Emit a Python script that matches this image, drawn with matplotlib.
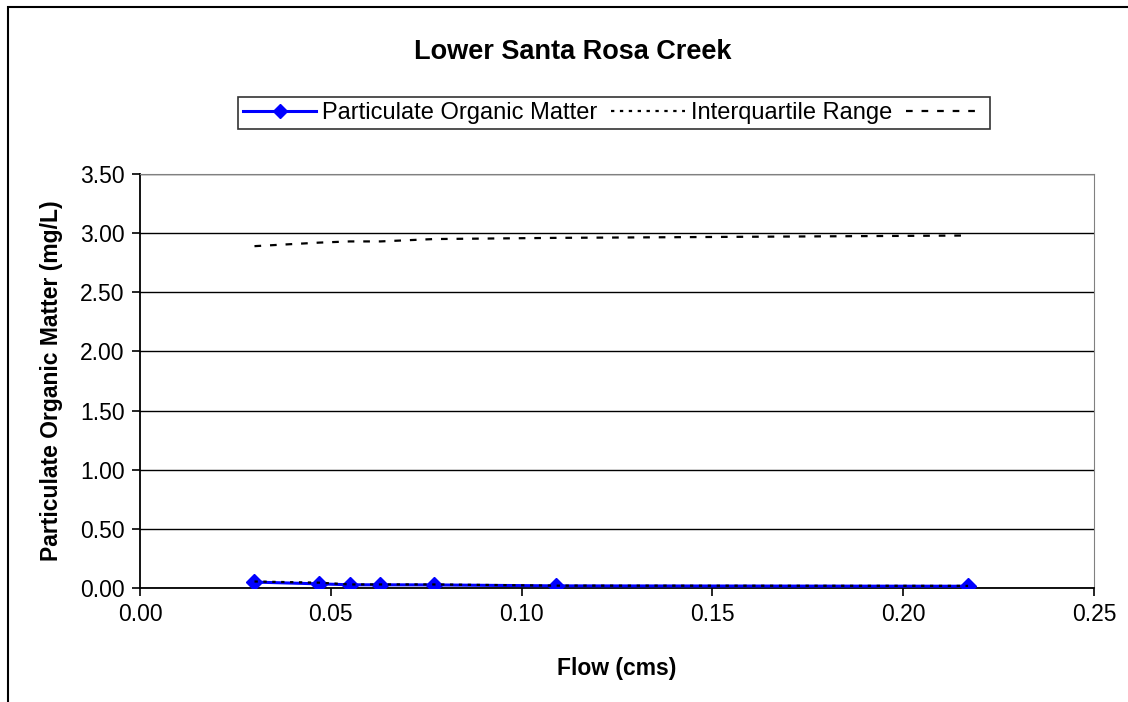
import matplotlib.pyplot as plt
from matplotlib.lines import Line2D
from matplotlib.patches import Rectangle
import numpy as np

plt.rcParams['font.family'] = ['Liberation Sans', 'DejaVu Sans']

# Dados
flow = [0.030, 0.047, 0.055, 0.063, 0.077, 0.109, 0.217]
pom = [0.050, 0.035, 0.027, 0.027, 0.026, 0.018, 0.015]
iqr_low = [0.055, 0.045, 0.030, 0.030, 0.030, 0.020, 0.018]
iqr_high = [2.89, 2.92, 2.93, 2.93, 2.95, 2.96, 2.98]

yticks = np.arange(0, 3.51, 0.5)
xticks = np.arange(0, 0.251, 0.05)

fig = plt.figure(figsize=(11.28, 7.02), dpi=100)

# moldura externa do gráfico
fig.patches.append(Rectangle((8 / 1128, -0.1), 1.2, 1 - 7 / 702 + 0.1,
                             transform=fig.transFigure, fill=False,
                             edgecolor='black', linewidth=1.5))

ax = fig.add_axes([140 / 1128, 1 - 588 / 702, 954 / 1128, 414 / 702])

ax.plot(flow, pom, color='#0000FF', linewidth=2.2, marker='D', markersize=8,
        zorder=3)
ax.plot(flow, iqr_low, color='black', linestyle=(0, (1.5, 2.5)), linewidth=1.6,
        zorder=4)
ax.plot(flow, iqr_high, color='black', linestyle=(0, (3, 4)), linewidth=1.6,
        zorder=4)

ax.set_xlim(0, 0.25)
ax.set_ylim(0, 3.5)
ax.set_xticks(xticks)
ax.set_yticks(yticks)
ax.set_xticklabels([f"{v:.2f}" for v in xticks])
ax.set_yticklabels([f"{v:.2f}" for v in yticks])
ax.tick_params(labelsize=16.5, direction='out', length=6, width=1.2,
               colors='black', pad=5)
ax.yaxis.grid(True, color='black', linewidth=1)
ax.set_axisbelow(True)

for lado in ['top', 'right']:
    ax.spines[lado].set_color('#808080')
for lado in ['left', 'bottom']:
    ax.spines[lado].set_color('black')
    ax.spines[lado].set_linewidth(1.3)

ax.set_xlabel("Flow (cms)", fontsize=16.5, fontweight='bold', labelpad=22)
ax.set_ylabel("Particulate Organic Matter (mg/L)", fontsize=16.5,
              fontweight='bold', labelpad=12)

fig.text(573 / 1128, 1 - 52 / 702, "Lower Santa Rosa Creek", ha='center',
         va='center', fontsize=19.5, fontweight='bold')

handles = [
    Line2D([], [], color='#0000FF', linewidth=2.2, marker='D', markersize=7),
    Line2D([], [], color='black', linestyle=(0, (1.5, 2.5)), linewidth=1.6),
    Line2D([], [], color='black', linestyle=(0, (3, 4)), linewidth=1.6),
]
labels = ["Particulate Organic Matter", "Interquartile Range", ""]
leg = fig.legend(handles, labels, loc='center', ncol=3,
                 bbox_to_anchor=(614 / 1128, 1 - 113 / 702), fontsize=17,
                 frameon=True, fancybox=False, handlelength=3.1,
                 handletextpad=0.25, columnspacing=0.6, borderpad=0.2,
                 borderaxespad=0)
leg.get_frame().set_edgecolor('black')
leg.get_frame().set_linewidth(1.2)

fig.savefig("out.png", dpi=100)
